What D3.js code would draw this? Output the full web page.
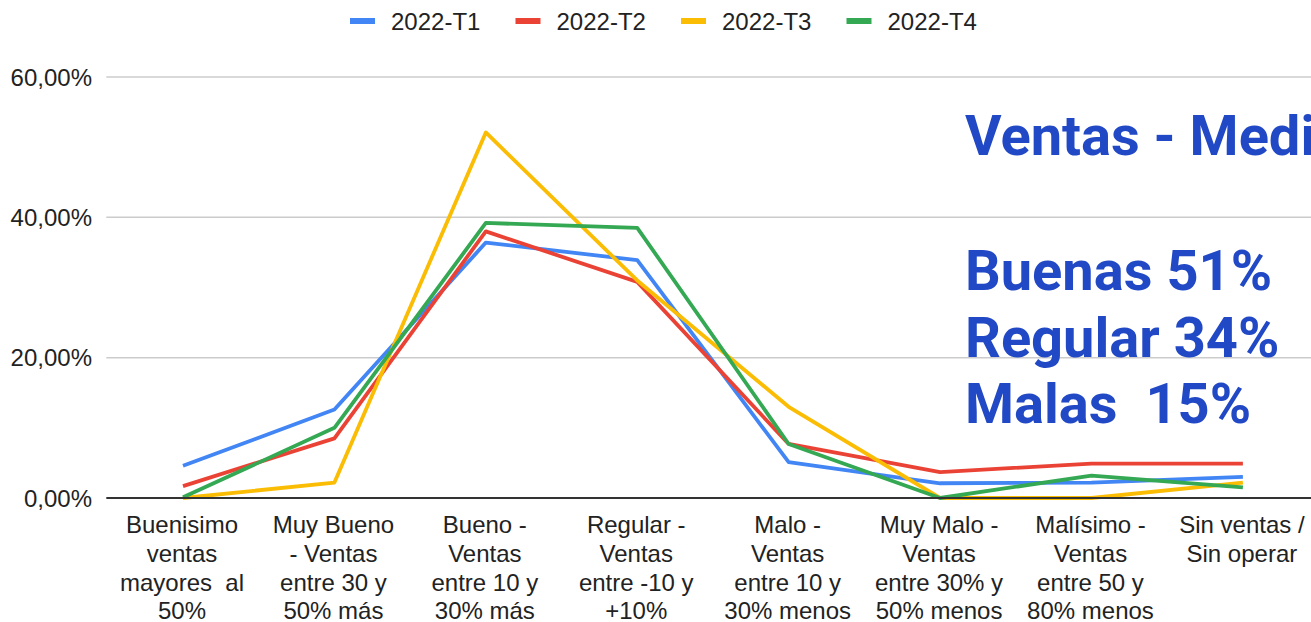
<!DOCTYPE html>
<html>
<head>
<meta charset="utf-8">
<script src="https://cdn.jsdelivr.net/npm/d3@7"></script>
<style>
  html, body { margin: 0; padding: 0; background: #fff; }
  svg { display: block; }
  text { font-family: "Liberation Sans", Arial, sans-serif; }
</style>
</head>
<body>
<svg id="chart" width="1311" height="622"></svg>
<script>
const categories = [
  "Buenisimo ventas mayores  al 50%",
  "Muy Bueno - Ventas entre 30 y 50% más",
  "Bueno - Ventas entre 10 y 30% más",
  "Regular - Ventas entre -10 y +10%",
  "Malo - Ventas entre 10 y 30% menos",
  "Muy Malo - Ventas entre 30% y 50% menos",
  "Malísimo - Ventas entre 50 y 80% menos",
  "Sin ventas / Sin operar"
];
const categoryLines = [
  ["Buenisimo", "ventas", "mayores  al", "50%"],
  ["Muy Bueno", "- Ventas", "entre 30 y", "50% más"],
  ["Bueno -", "Ventas", "entre 10 y", "30% más"],
  ["Regular -", "Ventas", "entre -10 y", "+10%"],
  ["Malo -", "Ventas", "entre 10 y", "30% menos"],
  ["Muy Malo -", "Ventas", "entre 30% y", "50% menos"],
  ["Malísimo -", "Ventas", "entre 50 y", "80% menos"],
  ["Sin ventas /", "Sin operar"]
];
const seriesNames = ["2022-T1", "2022-T2", "2022-T3", "2022-T4"];
const seriesColors = ["#4285F4", "#EA4335", "#FBBC04", "#34A853"];
const t1 = [4.6, 12.6, 36.4, 33.9, 5.1, 2.1, 2.2, 3.0];
const t2 = [1.7, 8.5, 38.0, 30.8, 7.7, 3.7, 4.9, 4.9];
const t3 = [0.0, 2.2, 52.1, 31.0, 13.0, 0.0, 0.0, 2.2];
const t4 = [0.1, 10.0, 39.2, 38.5, 7.7, 0.0, 3.2, 1.5];
const yTicks = [0, 20, 40, 60];
const yTickLabels = ["0,00%", "20,00%", "40,00%", "60,00%"];
const overlayTitle = "Ventas - Medición";
const overlayLines = ["Buenas 51%", "Regular 34%", "Malas  15%"];

const seriesValues = [t1, t2, t3, t4];

const svg = d3.select("#chart");
const plotLeft = 107.3, plotRight = 1318.6, plotTop = 77, plotBottom = 498;

const x = d3.scalePoint().domain(categories).range([plotLeft, plotRight]).padding(0.5);
const y = d3.scaleLinear().domain([0, 60]).range([plotBottom, plotTop]);

// gridlines
svg.append("g").selectAll("line").data(yTicks.filter(d => d !== 0)).join("line")
  .attr("x1", plotLeft - 1).attr("x2", 1311)
  .attr("y1", d => y(d)).attr("y2", d => y(d))
  .attr("stroke", "#cccccc").attr("stroke-width", 1.5);

// y labels
svg.append("g").selectAll("text").data(yTicks).join("text")
  .attr("x", 92).attr("y", d => y(d))
  .attr("dy", "0.36em")
  .attr("text-anchor", "end")
  .attr("font-size", 24)
  .attr("fill", "#222")
  .text((d, i) => yTickLabels[i]);

// lines
const line = d3.line().x((d, i) => x(categories[i])).y(d => y(d));
svg.append("g").selectAll("path").data(seriesValues).join("path")
  .attr("d", d => line(d))
  .attr("fill", "none")
  .attr("stroke", (d, i) => seriesColors[i])
  .attr("stroke-width", 3.8)
  .attr("stroke-linejoin", "round");

// baseline
svg.append("line")
  .attr("x1", plotLeft - 1).attr("x2", 1311)
  .attr("y1", y(0)).attr("y2", y(0))
  .attr("stroke", "#333").attr("stroke-width", 2);

// x labels
const xl = svg.append("g").selectAll("text").data(categories).join("text")
  .attr("text-anchor", "middle")
  .attr("font-size", 24)
  .attr("fill", "#222")
  .attr("xml:space", "preserve")
  .style("white-space", "pre");
xl.each(function(d, i) {
  const t = d3.select(this);
  categoryLines[i].forEach((ln, j) => {
    t.append("tspan").attr("x", x(d) - 1).attr("y", 533 + j * 28.8).text(ln);
  });
});

// legend
const legend = svg.append("g").selectAll("g").data(seriesNames).join("g")
  .attr("transform", (d, i) => `translate(${350 + i * 165.5},21)`);
legend.append("rect").attr("x", 0).attr("y", -3).attr("width", 25).attr("height", 6)
  .attr("fill", (d, i) => seriesColors[i]);
legend.append("text").attr("x", 41).attr("y", 0).attr("dy", "0.36em")
  .attr("font-size", 24).attr("fill", "#222").text(d => d);

// overlay text
const ov = svg.append("g")
  .attr("font-weight", "bold")
  .attr("fill", "#2148c5")
  .attr("font-size", 56);
ov.append("text").attr("x", 965).attr("y", 155).style("font-family", "Roboto, sans-serif").text(overlayTitle);
ov.selectAll("text.l").data(overlayLines).join("text").attr("class", "l")
  .attr("x", 965).attr("y", (d, i) => 290 + i * 66.5)
  .style("font-family", "Roboto, sans-serif")
  .attr("xml:space", "preserve").style("white-space", "pre")
  .text(d => d);
</script>
</body>
</html>
